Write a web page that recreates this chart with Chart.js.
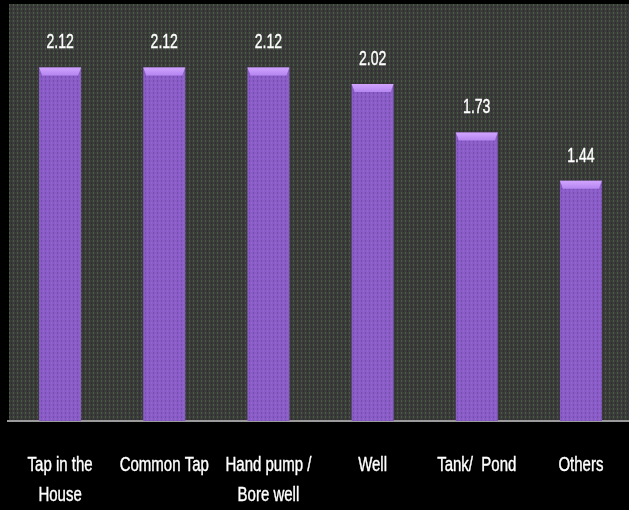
<!DOCTYPE html>
<html><head><meta charset="utf-8">
<script src="https://cdn.jsdelivr.net/npm/chart.js@4/dist/chart.umd.min.js"></script>
<style>html,body{margin:0;padding:0;background:#000;overflow:hidden}canvas{display:block}</style>
</head><body><canvas id="c" width="633" height="510"></canvas>
<script>
const categories = [["Tap in the","House"],"Common Tap",["Hand pump /","Bore well"],"Well","Tank/  Pond","Others"];
const values = [2.12, 2.12, 2.12, 2.02, 1.73, 1.44];
const valueLabels = ["2.12","2.12","2.12","2.02","1.73","1.44"];
const FONT = "'Liberation Sans',Arial,sans-serif";

function makePattern(ctx, base, d1, d2){
  const p = document.createElement('canvas'); p.width=4; p.height=4;
  const g = p.getContext('2d');
  if(base){g.fillStyle=base; g.fillRect(0,0,4,4);}
  g.fillStyle=d1; g.fillRect(1,0,1,2);
  g.fillStyle=d2; g.fillRect(3,2,1,2);
  return ctx.createPattern(p,'repeat');
}

function narrowText(ctx, text, x, y, size, sx){
  ctx.save();
  ctx.translate(x,y);
  ctx.scale(sx,1);
  ctx.font = size + "px " + FONT;
  ctx.textAlign='center'; ctx.textBaseline='middle';
  ctx.fillText(text,0,0);
  ctx.lineWidth=0.4; ctx.strokeStyle=ctx.fillStyle; ctx.strokeText(text,0,0);
  ctx.restore();
}

const bgPlugin = {
  id:'bg',
  beforeDraw(chart){
    const {ctx, chartArea:a} = chart;
    ctx.save();
    ctx.fillStyle='#000'; ctx.fillRect(0,0,chart.width,chart.height);
    ctx.fillStyle=makePattern(ctx,'#3b3b3b','#46603f','#2e2e2e');
    ctx.fillRect(a.left+1,a.top,a.right-a.left,a.bottom-a.top);
    ctx.restore();
  }
};

const barDeco = {
  id:'barDeco',
  afterDatasetsDraw(chart){
    const {ctx} = chart;
    const meta = chart.getDatasetMeta(0);
    const xs = chart.scales.x;
    ctx.save();
    const over = makePattern(ctx,null,'rgba(60,30,90,0.25)','rgba(200,170,240,0.12)');
    meta.data.forEach((bar,i)=>{
      const w = bar.width, x0 = bar.x - w/2, x1 = bar.x + w/2, y = bar.y, b = bar.base;
      ctx.fillStyle=over; ctx.fillRect(x0,y,w,b-y);
      const cg = ctx.createLinearGradient(0,y,0,y+8);
      cg.addColorStop(0,'#d2a4ff'); cg.addColorStop(1,'#b486f0');
      ctx.fillStyle=cg;
      ctx.beginPath();
      ctx.moveTo(x0,y); ctx.lineTo(x1,y); ctx.lineTo(x1-3,y+8); ctx.lineTo(x0+3,y+8); ctx.closePath();
      ctx.fill();
      ctx.fillStyle='#ffffff';
      narrowText(ctx, valueLabels[i], bar.x, y-25, 21, 0.67);
    });
    ctx.fillStyle='#ffffff';
    categories.forEach((lab,i)=>{
      const x = xs.getPixelForTick(i);
      const lines = Array.isArray(lab)?lab:[lab];
      lines.forEach((t,j)=>narrowText(ctx,t,x,465+j*30,20,0.75));
    });
    ctx.restore();
  }
};

const ctx = document.getElementById('c').getContext('2d');
function barFill(context){
  const chart = context.chart; const el = context.element;
  if(!chart.chartArea || !el || el.width===undefined) return '#8a5cc8';
  const x0 = el.x - el.width/2, x1 = el.x + el.width/2;
  const g = chart.ctx.createLinearGradient(x0,0,x1,0);
  g.addColorStop(0,'#6a44a4');
  g.addColorStop(0.1,'#875ac8');
  g.addColorStop(0.5,'#9366d6');
  g.addColorStop(0.9,'#875ac8');
  g.addColorStop(1,'#6a44a4');
  return g;
}

new Chart(ctx,{
  type:'bar',
  data:{labels:categories,datasets:[{data:values,backgroundColor:barFill,borderWidth:0,barPercentage:0.403,categoryPercentage:1}]},
  options:{
    responsive:false, animation:false,
    layout:{padding:{left:8,top:4,right:0,bottom:0}},
    plugins:{legend:{display:false},tooltip:{enabled:false}},
    scales:{
      y:{display:false,min:0,max:2.5},
      x:{
        grid:{display:false},
        border:{display:true,color:'#9a9a9a',width:2},
        ticks:{display:false},
        afterFit(scale){scale.height=89;}
      }
    }
  },
  plugins:[bgPlugin,barDeco]
});
</script></body></html>
